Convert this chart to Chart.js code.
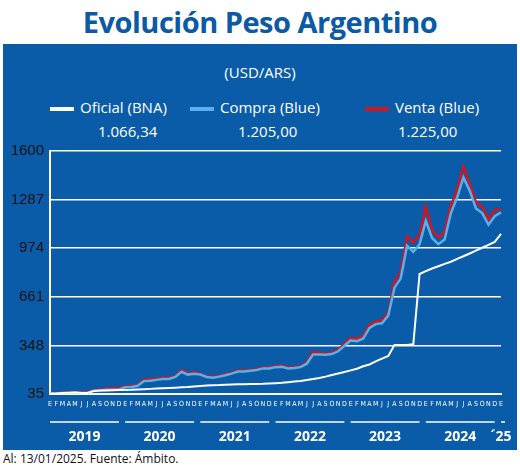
<!DOCTYPE html>
<html><head><meta charset="utf-8">
<script src="https://cdn.jsdelivr.net/npm/chart.js@4"></script>
<style>
body{margin:0;width:520px;height:469px;background:#fff;font-family:"Open Sans",sans-serif;position:relative;overflow:hidden}
#title{position:absolute;left:0;top:2px;width:520px;text-align:center;font-size:29px;font-weight:bold;color:#0b5aa6;letter-spacing:-0.5px}
#panel{position:absolute;left:3px;top:44px;width:514px;height:406px;background:#0a5ca8}
.t{position:absolute;color:#fff;font-size:15px}
#foot{position:absolute;left:3px;top:450px;font-size:12px;color:#111}
.sw{display:inline-block;width:24px;height:4px;vertical-align:middle;margin-right:6px}
canvas{position:absolute}
</style></head><body>
<div id="title">Evolución Peso Argentino</div>
<div id="panel"></div>
<div class="t" style="left:0;width:520px;text-align:center;top:62px">(USD/ARS)</div>
<div class="t" style="left:50px;top:97px"><span class="sw" style="background:#fff"></span>Oficial (BNA)</div>
<div class="t" style="left:190px;top:97px"><span class="sw" style="background:#5ab0e8"></span>Compra (Blue)</div>
<div class="t" style="left:365px;top:97px"><span class="sw" style="background:#d7141b"></span>Venta (Blue)</div>
<div class="t" style="left:98px;top:121px">1.066,34</div>
<div class="t" style="left:238px;top:121px">1.205,00</div>
<div class="t" style="left:398px;top:121px">1.225,00</div>
<div id="foot">Al: 13/01/2025. Fuente: Ámbito.</div>
<canvas id="c" width="510" height="312" style="left:3px;top:136px;width:510px;height:312px"></canvas>
<script>
const monthLetters = ['E','F','M','A','M','J','J','A','S','O','N','D'];
const years = ['2019','2020','2021','2022','2023','2024','´25'];
const yTicks = [35, 348, 661, 974, 1287, 1600];
const oficial = [38,39,42,43,44,42,42,55,57,58,59,60, 61,62,64,66,68,70,72,74,76,78,80,83,
  86,89,92,93,95,96,97,98,99,100,101,103, 105,107,111,115,119,125,131,138,147,157,167,177,
  187,198,214,225,245,263,280,350,350,350,355,808, 826,843,858,873,887,905,922,940,958,977,995,1015, 1066];
const compra = [37,38,42,42,44,42,42,56,58,63,63,63, 78,80,88,118,120,126,132,132,145,178,160,166,
  160,145,140,147,156,166,180,180,185,190,200,200, 208,210,200,203,208,230,290,290,288,292,310,346,
  380,375,392,460,485,490,540,720,780,990,950,1000, 1150,1040,1000,1030,1200,1300,1430,1345,1230,1200,1125,1180, 1205];
const venta = [38,39,43,44,46,44,44,60,62,70,72,72, 84,86,94,126,132,134,140,140,150,190,168,176,
  166,150,146,152,162,172,186,186,190,196,206,206, 214,218,206,210,214,240,306,300,296,302,320,360,
  396,390,410,480,500,510,560,760,820,1050,1010,1060, 1240,1090,1040,1080,1250,1350,1500,1390,1270,1240,1160,1220, 1225];

const labels = [];
for (let i = 0; i < compra.length; i++) labels.push(monthLetters[i % 12]);

const yearPlugin = {
  id: 'years',
  afterDraw(chart) {
    const ctx = chart.ctx, x = chart.scales.x;
    ctx.save();
    ctx.strokeStyle = '#fff'; ctx.lineWidth = 1.5;
    ctx.fillStyle = '#fff'; ctx.font = 'bold 14px "Open Sans"'; ctx.textAlign = 'center';
    years.forEach((yr, k) => {
      const a = x.getPixelForValue(k * 12);
      const b = x.getPixelForValue(Math.min(k * 12 + 11, labels.length - 1));
      ctx.beginPath(); ctx.moveTo(a, 286); ctx.lineTo(b + (k == 6 ? 4 : 0), 286); ctx.stroke();
      ctx.fillText(yr, (a + b) / 2, 305);
    });
    ctx.restore();
  }
};

new Chart(document.getElementById('c'), {
  type: 'line',
  data: {
    labels: labels,
    datasets: [
      { data: oficial, borderColor: '#ffffff', borderWidth: 2, order: 1 },
      { data: compra, borderColor: '#5ab0e8', borderWidth: 2.5, order: 2 },
      { data: venta, borderColor: '#d7141b', borderWidth: 2.5, order: 3 }
    ]
  },
  options: {
    animation: false, responsive: false,
    layout: { padding: { top: 12, right: 12, bottom: 32, left: 0 } },
    elements: { point: { radius: 0 }, line: { tension: 0 } },
    plugins: { legend: { display: false }, tooltip: { enabled: false } },
    scales: {
      x: {
        grid: { display: false, drawTicks: false },
        border: { color: '#fff', width: 2 },
        afterFit(s) { s.height = 22; },
        ticks: { color: '#fff', autoSkip: false, maxRotation: 0, padding: 6, font: { size: 7, family: 'DejaVu Sans Condensed' } }
      },
      y: {
        min: 35, max: 1600,
        afterFit(s) { s.width = 47; },
        afterBuildTicks(s) { s.ticks = yTicks.map(v => ({ value: v })); },
        grid: { color: '#fff', lineWidth: 1.5, drawTicks: false },
        border: { color: '#fff', width: 2 },
        ticks: { color: '#111', padding: 6, font: { size: 15 }, callback: v => String(v) }
      }
    }
  },
  plugins: [yearPlugin]
});
</script>
</body></html>
